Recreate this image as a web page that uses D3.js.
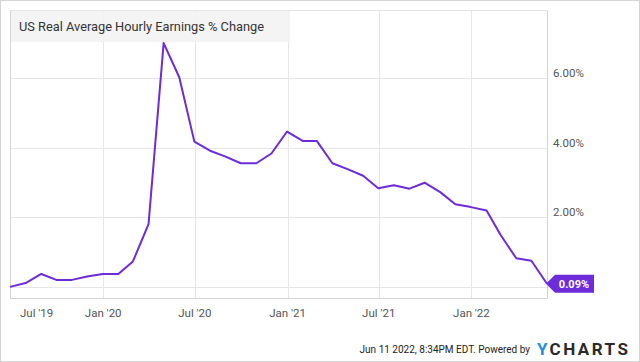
<!DOCTYPE html>
<html>
<head>
<meta charset="utf-8">
<script src="https://cdn.jsdelivr.net/npm/d3@7"></script>
<style>
  body { margin: 0; background: #fff; }
  svg { display: block; font-family: Roboto, "Noto Sans", sans-serif; }
  .grid line { stroke: #e6e6e6; stroke-width: 1; }
  .axis text { fill: #555; font-size: 11.5px; }
</style>
</head>
<body>
<svg id="plate" width="640" height="362"></svg>
<script>
// monthly readings, YCharts dates them at month end
var months = ['2019-06', '2019-07', '2019-08', '2019-09', '2019-10', '2019-11', '2019-12',
    '2020-01', '2020-02', '2020-03', '2020-04', '2020-05', '2020-06', '2020-07', '2020-08',
    '2020-09', '2020-10', '2020-11', '2020-12', '2021-01', '2021-02', '2021-03', '2021-04',
    '2021-05', '2021-06', '2021-07', '2021-08', '2021-09', '2021-10', '2021-11', '2021-12',
    '2022-01', '2022-02', '2022-03', '2022-04', '2022-05'];
var values = [0.00, 0.11, 0.37, 0.20, 0.20, 0.30, 0.37,
    0.37, 0.73, 1.80, 7.00, 6.02, 4.17, 3.91, 3.74,
    3.55, 3.55, 3.83, 4.46, 4.19, 4.19, 3.55, 3.38,
    3.19, 2.83, 2.92, 2.82, 2.99, 2.72, 2.37, 2.29,
    2.19, 1.49, 0.82, 0.75, 0.09];
var xTicks = ['2019-07-01', '2020-01-01', '2020-07-01', '2021-01-01', '2021-07-01', '2022-01-01'];
var xTickLabels = ["Jul '19", "Jan '20", "Jul '20", "Jan '21", "Jul '21", "Jan '22"];
var yTicks = [0, 2, 4, 6];

var title = 'US Real Average Hourly Earnings % Change';
var stamp = 'Jun 11 2022, 8:34PM EDT.  Powered by';

var parseMonth = d3.timeParse('%Y-%m');
var parseDay = d3.timeParse('%Y-%m-%d');
var list = months.map((m, i) => ({
    date: d3.timeDay.offset(d3.timeMonth.offset(parseMonth(m), 1), -1),
    value: values[i]
}));

var svg = d3.select('#plate');
var plot = {left: 10, right: 547, top: 10, bottom: 298};

// outer frame
svg.append('rect')
    .attr('x', 0.5).attr('y', 0.5)
    .attr('width', 639).attr('height', 361)
    .attr('fill', '#fff')
    .attr('stroke', '#d4d4d4');

var x = d3.scaleTime()
    .domain([list[0].date, list[list.length - 1].date])
    .range([plot.left, plot.right]);
var y = d3.scaleLinear()
    .domain([-0.32, 7.95])
    .range([plot.bottom, plot.top]);

var grid = svg.append('g').attr('class', 'grid');
grid.selectAll('line.h')
    .data(yTicks)
    .join('line')
    .attr('class', 'h')
    .attr('x1', plot.left).attr('x2', plot.right)
    .attr('y1', (d) => Math.round(y(d)) + 0.5)
    .attr('y2', (d) => Math.round(y(d)) + 0.5);
grid.selectAll('line.v')
    .data(xTicks.slice(1).map(parseDay))
    .join('line')
    .attr('class', 'v')
    .attr('x1', (d) => Math.round(x(d)) + 0.5)
    .attr('x2', (d) => Math.round(x(d)) + 0.5)
    .attr('y1', plot.top).attr('y2', plot.bottom);

// plot frame (left, bottom, right)
svg.append('path')
    .attr('d', ['M', plot.left + 0.5, plot.top, 'V', plot.bottom + 0.5, 'H', plot.right + 0.5, 'V', plot.top].join(' '))
    .attr('fill', 'none')
    .attr('stroke', '#d4d4d4');
svg.append('line')
    .attr('x1', plot.left).attr('x2', plot.right + 1)
    .attr('y1', plot.top + 0.5).attr('y2', plot.top + 0.5)
    .attr('stroke', '#e6e6e6');

// title box
svg.append('rect')
    .attr('x', plot.left + 1).attr('y', plot.top + 1)
    .attr('width', 279).attr('height', 31)
    .attr('fill', '#f2f2f2')
    .attr('opacity', 0.85);
svg.append('text')
    .attr('x', 19).attr('y', 31)
    .attr('fill', '#333')
    .style('font-size', '13.5px')
    .attr('textLength', 245)
    .attr('lengthAdjust', 'spacingAndGlyphs')
    .text(title);

// the line
var line = d3.line()
    .x((d) => x(d.date))
    .y((d) => y(d.value));
svg.append('path')
    .datum(list)
    .attr('fill', 'none')
    .attr('stroke', '#6d2bd9')
    .attr('stroke-width', 2)
    .attr('stroke-linejoin', 'round')
    .attr('d', line);

// right axis labels
var yAxis = svg.append('g').attr('class', 'axis');
yAxis.selectAll('text')
    .data(yTicks.filter((d) => d > 0))
    .join('text')
    .attr('x', plot.right + 6)
    .attr('y', (d) => y(d) - 1)
    .text((d) => d.toFixed(2) + '%');

// bottom axis labels
var xAxis = svg.append('g').attr('class', 'axis');
xAxis.selectAll('text')
    .data(xTicks)
    .join('text')
    .attr('y', 317)
    .attr('text-anchor', 'middle')
    .text((d, i) => xTickLabels[i])
    .attr('x', function (d) {
        var w = this.getComputedTextLength();
        return Math.max(x(parseDay(d)), plot.left + 10 + w / 2);
    });

// last value tag
var last = list[list.length - 1];
var lx = x(last.date), ly = y(last.value);
var tag = svg.append('g');
tag.append('path')
    .attr('d', ['M', lx - 1, ly, 'L', lx + 8, ly - 9, 'H', lx + 47, 'V', ly + 9, 'H', lx + 8, 'Z'].join(' '))
    .attr('fill', '#6d2bd9');
tag.append('text')
    .attr('x', lx + 27).attr('y', ly + 4)
    .attr('text-anchor', 'middle')
    .attr('fill', '#fff')
    .style('font-size', '11px')
    .style('font-weight', 'bold')
    .text(last.value.toFixed(2) + '%');

// footer
svg.append('text')
    .attr('x', 530).attr('y', 353)
    .attr('text-anchor', 'end')
    .attr('fill', '#222')
    .style('font-size', '10px')
    .text(stamp);
var logo = svg.append('text')
    .attr('x', 537).attr('y', 355)
    .style('font-size', '17px')
    .style('font-weight', 'bold');
logo.append('tspan').attr('fill', '#1e90e0').text('Y');
logo.append('tspan').attr('fill', '#2a2a2a').attr('dx', 2).style('letter-spacing', '2.5px').text('CHARTS');
</script>
</body>
</html>
